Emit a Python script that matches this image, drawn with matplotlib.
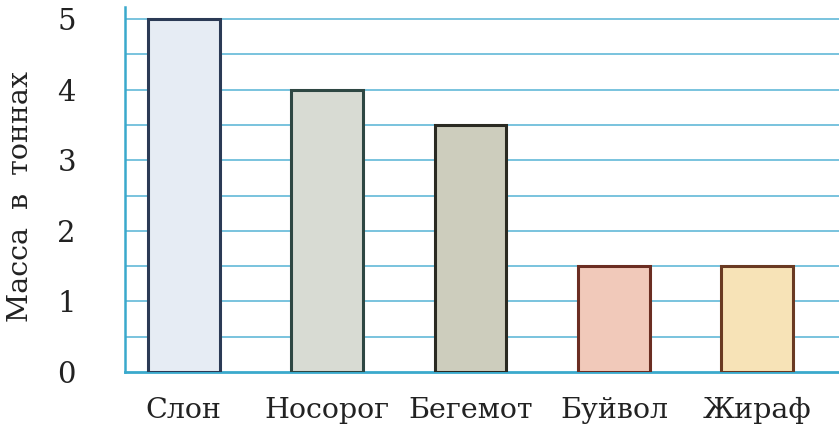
import numpy as np
import matplotlib.pyplot as plt

animals = ["Слон", "Носорог", "Бегемот", "Буйвол", "Жираф"]
mass = [5, 4, 3.5, 1.5, 1.5]
fills = ["#e6ecf4", "#d8dbd3", "#cdcdbd", "#f1c9ba", "#f7e3b7"]
edges = ["#2b3a55", "#2e4743", "#2a2a22", "#6b2d22", "#6a3a22"]
y_ticks = [0, 1, 2, 3, 4, 5]

plt.rcParams["font.family"] = "DejaVu Serif"

fig = plt.figure(figsize=(8.39, 4.25), dpi=100)
ax = fig.add_axes([0.149, 0.1247, 0.851, 0.8588])

grid_color = "#62b9d8"
for y in np.arange(0.5, 5.01, 0.5):
    ax.axhline(y, color=grid_color, linewidth=1.2, zorder=1)

x = np.arange(len(animals))
ax.bar(x, mass, width=0.5, color=fills, edgecolor=edges, linewidth=2.2, zorder=3)

ax.set_xlim(-0.41, 4.57)
ax.set_ylim(0, 5.17)

for s in ["top", "right"]:
    ax.spines[s].set_visible(False)
ax.spines["left"].set_color("#3aa9cc")
ax.spines["left"].set_linewidth(1.8)
ax.spines["bottom"].set_color("#3aa9cc")
ax.spines["bottom"].set_linewidth(2.0)

ax.set_xticks(x)
ax.set_xticklabels(animals)
ax.set_yticks(y_ticks)
ax.tick_params(axis="y", length=0, pad=42, labelsize=21, colors="#222222")
ax.tick_params(axis="x", length=0, pad=18, labelsize=20.5, colors="#222222")
for lbl in ax.get_yticklabels():
    lbl.set_horizontalalignment("center")
ax.set_ylabel("Масса  в  тоннах", fontsize=20.5, color="#222222")
ax.yaxis.set_label_coords(-0.128, 0.48)

fig.savefig("out.png", dpi=100)
